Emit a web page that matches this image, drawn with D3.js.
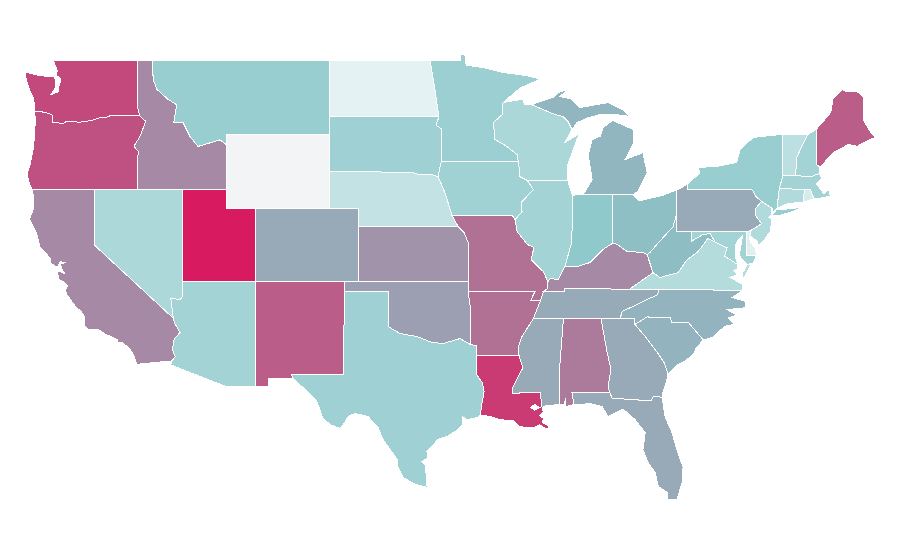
<!DOCTYPE html>
<html>
<head>
<meta charset="utf-8">
<script src="https://cdn.jsdelivr.net/npm/d3@7"></script>
<style>
  html, body { margin: 0; background: #fff; }
  path.state { stroke: #fff; stroke-width: 1px; fill-rule: evenodd; shape-rendering: crispEdges; }
</style>
</head>
<body>
<svg id="map" width="900" height="560"></svg>
<script>
// value read off the colour of each state (0-100), null = no data
const stateNames = ['WA','OR','CA','NV','ID','MT','WY','UT','AZ','CO','NM','ND','SD','NE','KS','OK','TX',
  'MN','IA','MO','AR','LA','WI','IL','IN','MI','OH','KY','TN','MS','AL','GA','FL','SC','NC','VA','WV',
  'PA','NY','NJ','DE','MD','CT','RI','MA','VT','NH','ME'];
const stateValues = [84,81,61.6,28,61.6,34.9,null,100,31.1,50.5,77,9.2,32.8,20.9,58,54,32.8,
  34.2,32.5,70,70,89,28.4,31.5,38.3,46,42.8,61.6,50,50.5,66.5,50.5,50.5,47,47,25.3,43.5,
  50.5,35.2,26.7,10.6,31.1,26.7,14.4,31.1,22.9,31.1,77];
const colourDomain = [0, 40, 100];
const colourRange = ['#ffffff', '#8ac7ca', '#d81b60'];
const nullColour = '#f3f4f6';

// shared borders, lon/lat
const waOr = [[-124.05,46.25],[-123.4,46.2],[-122.87,46.07],[-122.8,45.65],[-122.1,45.58],[-121.85,45.72],[-121,45.65],[-120.2,45.75],[-119.6,45.9],[-119,45.95],[-118.98,46],[-116.92,46]];
const waId = [[-117.03,49],[-117.04,46.4],[-116.92,46]];
const orId = [[-116.92,46],[-116.5,45.7],[-116.9,44.88],[-117.3,44.35],[-117,44.05],[-117.03,43.85],[-117.03,42]];
const waCoast = [[-124.1,46.9],[-124.35,47.3],[-124.6,47.9],[-124.7,48.38],[-123.7,48.17],[-123.15,48.15],[-122.75,48.15],[-122.6,47.9],[-122.6,47.55],[-122.95,47.15],[-122.75,47.2],[-122.45,47.3],[-122.4,47.6],[-122.25,48],[-122.6,48.2],[-122.5,48.45],[-122.7,48.8]];
const orCoast = [[-124.4,42.3],[-124.56,42.82],[-124.36,43.36],[-124.15,44.18],[-124.05,44.9],[-124,45.8]];
const caCoast = [[-124.1,41.5],[-124.1,41],[-124.4,40.4],[-124,39.8],[-123.8,39.3],[-123.7,38.9],[-123,38.3],[-122.95,38],[-122.5,37.8],[-122.3,38.1],[-122,38.05],[-122.3,37.95],[-122.2,37.7],[-122,37.45],[-122.4,37.6],[-122.5,37.5],[-122.4,37.15],[-122,36.95],[-121.8,36.8],[-121.95,36.55],[-121.85,36.3],[-121.3,35.7],[-120.85,35.35],[-120.65,35.1],[-120.63,34.6],[-120.45,34.45],[-119.7,34.4],[-119.2,34.15],[-118.8,34.02],[-118.4,33.85],[-118.4,33.73],[-118.1,33.7],[-117.6,33.4],[-117.3,33],[-117.12,32.53]];
const caAz = [[-114.63,35.03],[-114.57,34.8],[-114.18,34.26],[-114.57,33.9],[-114.7,33.33],[-114.5,32.95],[-114.72,32.72]];
const nvAz = [[-114.04,37],[-114.04,36.2],[-114.15,36.05],[-114.8,36.1],[-114.72,35.6],[-114.63,35.03]];
const idMt = [[-116.05,49],[-116,47.97],[-115.74,47.43],[-115,46.9],[-114.4,46.6],[-114.6,45.64],[-113.97,45.64],[-113.5,44.88],[-112.96,44.34],[-111.46,44.7],[-111.05,44.45]];
const ndMn = [[-97.2,49],[-96.87,47.4],[-96.6,45.94]];
const sdMn = [[-96.6,45.94],[-96.8,45.5],[-96.45,45.3],[-96.45,43.5]];
const sdIa = [[-96.45,43.5],[-96.66,42.7]];
const neSd = [[-104.05,43],[-98.4,42.93],[-97.9,42.8],[-97.2,42.85],[-96.66,42.7]];
const neIa = [[-96.66,42.7],[-96.2,41.85],[-95.7,40.58]];
const neMo = [[-95.7,40.58],[-95.3,40]];
const ksMo = [[-95.3,40],[-94.9,39.68],[-94.62,39.13],[-94.62,37]];
const okAr = [[-94.62,36.5],[-94.43,35.4],[-94.45,33.6]];
const redRiver = [[-100,34.56],[-99.24,34.2],[-98.1,34.04],[-97.07,33.72],[-96.3,33.66],[-95.17,33.93],[-94.45,33.6]];
const txLa = [[-94.04,33],[-94.04,31.98],[-93.67,31.55],[-93.53,31.06],[-93.67,30.46],[-93.8,29.76]];
const txCoast = [[-94.03,29.64],[-94.7,29.54],[-95.03,29.7],[-94.97,29.27],[-95.3,29],[-96.05,28.62],[-96.66,28.46],[-97.42,27.8],[-97.35,27.48],[-97.75,27.26],[-97.55,27.1],[-97.48,26.67],[-97.4,25.86],[-98.2,26.02],[-99.04,26.4],[-99.38,26.94],[-99.45,27.4],[-99.92,27.92],[-100.4,28.46],[-100.73,29.1],[-101.41,29.7],[-102.3,29.87],[-102.77,29.7],[-102.98,29.38],[-103.32,29.05],[-104,29.27],[-104.5,29.65],[-104.9,30.55],[-106,31.4],[-106.53,31.78]];
const mnWi = [[-92.25,46.72],[-92.3,46.07],[-92.9,45.64],[-92.8,44.72],[-92,44.35],[-91.3,43.9],[-91.2,43.5]];
const iaWi = [[-91.2,43.5],[-91.1,42.7],[-90.6,42.5]];
const iaIl = [[-90.6,42.5],[-90.2,42],[-91.02,41.3],[-90.96,40.8],[-91.43,40.38]];
const moIl = [[-91.43,40.38],[-91.3,39.73],[-90.6,39.03],[-90.15,38.86],[-90.35,38.2],[-89.5,37.55],[-89.2,37]];
const riverAr = [[-89.7,36],[-89.9,35.6],[-90.2,35],[-90.6,34.5],[-90.96,34.04],[-91.23,33.44],[-91.16,33]];
const riverLa = [[-91.16,33],[-90.9,32.35],[-91.57,31.33],[-91.63,30.97]];
const inIl = [[-87.53,41.7],[-87.57,39.6],[-87.63,39.03],[-88.05,37.83]];
const ohioKyIn = [[-84.8,39.1],[-85.46,38.76],[-86.35,38.05],[-87.2,37.83],[-88.05,37.83]];
const ohioKyOh = [[-82.47,38.48],[-82.8,38.6],[-83.83,38.65],[-84.5,39.03],[-84.8,39.1]];
const kyTn = [[-89.5,36.5],[-88.05,36.5],[-88.05,36.65],[-83.67,36.6]];
const ohWv = [[-80.5,40.6],[-80.7,40],[-81.7,39.13],[-82.27,38.6],[-82.47,38.48]];
const vaWv = [[-82.07,37.5],[-81.6,37.24],[-80.37,37.5],[-79.76,38.2],[-79.07,38.6],[-78.8,38.85],[-78.35,39.35],[-77.85,39.15]];
const potomac = [[-77.85,39.15],[-77.05,38.85],[-77.2,38.4],[-76.35,37.95]];
const tnNc = [[-81.7,36.58],[-81.75,36.3],[-82.47,36.05],[-83.3,35.72],[-84.17,35.4],[-84.3,35]];
const ncSc = [[-83.3,34.7],[-82.47,35.1],[-80.9,35.05],[-80.78,34.8],[-79.67,34.8],[-78.65,33.85]];
const gaSc = [[-83.3,34.7],[-82.6,34.04],[-81.8,33.2],[-81.3,32.6],[-81.05,31.98]];
const alGa = [[-85.6,35],[-85.18,33.17],[-84.92,32.25],[-85.12,31.33],[-85,31]];
const gaFl = [[-85,31],[-84.85,30.7],[-82.2,30.55],[-82.05,30.8],[-81.45,30.75]];
const flCoast = [[-81.25,29.7],[-80.78,28.83],[-80.45,27.9],[-80.03,26.95],[-80.1,26.1],[-80.45,25.2],[-81.05,25.2],[-81.1,25.6],[-81.7,25.9],[-81.93,26.67],[-82.4,27.2],[-82.75,27.9],[-82.6,28.83],[-83.3,29.55],[-84.1,30.1],[-85.12,29.7],[-85.53,30.25],[-86.3,30.4],[-87.43,30.35]];
const laCoast = [[-89.6,30.18],[-89.5,29.95],[-89.8,29.75],[-89.45,29.6],[-89.6,29.4],[-89.2,29.2],[-89.15,29.05],[-89.4,29.08],[-89.75,29.25],[-90.1,29.12],[-90.6,29.08],[-91.2,29.2],[-91.6,29.5],[-92.1,29.5],[-92.65,29.58],[-93.2,29.72],[-93.8,29.76]];
const ncCoast = [[-78.65,33.85],[-78,34],[-77.2,34.6],[-76.5,34.7],[-76.95,35.05],[-76.35,35.2],[-77.05,35.5],[-75.75,35.6],[-75.8,35.95],[-76.7,36.15],[-75.97,36.55]];
const wiMi = [[-90.3,46.6],[-88.72,46.07],[-88.18,45.97],[-87.84,45.7],[-87.57,45.26]];
const paNy = [[-79.76,42],[-75.35,42],[-75.05,41.6],[-74.7,41.36]];
const paNj = [[-74.7,41.36],[-75.13,40.95],[-75.1,40.6],[-74.7,40.15],[-75.4,39.8]];
const nyVt = [[-73.3,45],[-73.25,42.75]];
const vtNh = [[-71.55,45],[-72,44.3],[-72.3,43.75],[-72.4,42.75]];
const nhMe = [[-71,45.26],[-70.95,43.36],[-70.73,43.2]];
const nhMa = [[-72.4,42.75],[-71.3,42.72],[-70.8,42.87]];

const rev = arc => [...arc].reverse();

// each state is a list of polygons, each polygon a list of rings
const stateRings = {
  WA: [[[[-122.75,49], ...waId, ...rev(waOr), ...waCoast]]],
  OR: [[[...waOr, ...orId.slice(1), [-124.2,42], ...orCoast]]],
  CA: [[[[-124.2,42],[-120,42],[-120,39], ...caAz, ...rev(caCoast)]]],
  NV: [[[[-120,42],[-114.04,42], ...nvAz, [-120,39]]]],
  ID: [[[...waId.slice(0,1), ...idMt, [-111.05,42],[-117.03,42], ...rev(orId), ...rev(waId)]]],
  MT: [[[[-116.05,49],[-104.05,49],[-104.05,45],[-111.05,45], ...rev(idMt)]]],
  WY: [[[[-111.05,45],[-104.05,45],[-104.05,41],[-111.05,41]]]],
  UT: [[[[-114.04,42],[-111.05,42],[-111.05,41],[-109.05,41],[-109.05,37],[-114.04,37]]]],
  AZ: [[[[-114.04,37],[-109.05,37],[-109.05,31.33],[-111.07,31.33],[-114.8,32.5], ...rev(caAz), ...rev(nvAz).slice(1)]]],
  CO: [[[[-109.05,41],[-102.05,41],[-102.05,37],[-109.05,37]]]],
  NM: [[[[-109.05,37],[-103,37],[-103.05,32],[-106.62,32],[-106.53,31.78],[-108.2,31.78],[-108.2,31.33],[-109.05,31.33]]]],
  ND: [[[[-104.05,49], ...ndMn, [-104.05,45.94]]]],
  SD: [[[[-104.05,45.94], ...sdMn, ...sdIa.slice(1), ...rev(neSd).slice(1),[-104.05,45]]]],
  NE: [[[...neSd, ...neIa.slice(1), ...neMo.slice(1), [-102.05,40],[-102.05,41],[-104.05,41]]]],
  KS: [[[[-102.05,40], ...ksMo, [-102.05,37]]]],
  OK: [[[[-103,37],[-94.62,37], ...okAr, ...rev(redRiver), [-100,36.5],[-103.04,36.5]]]],
  TX: [[[[-103.04,36.5],[-100,36.5], ...redRiver, [-94.04,33.55], ...txLa, ...txCoast, [-106.62,32],[-103.05,32]]]],
  MN: [[[[-97.2,49],[-95.15,49],[-95.15,49.33],[-94.85,49.33],[-94.75,48.75],[-93.47,48.6],[-92.25,48.35],[-90.8,48.2],[-89.7,48],[-91.1,47.5], ...mnWi, ...rev(sdMn).slice(0,-1), ...rev(ndMn).slice(0,-1)]]],
  IA: [[[[-96.45,43.5], ...iaWi, ...iaIl.slice(1), [-91.63,40.6],[-95.7,40.58], ...rev(neIa).slice(1), ...rev(sdIa).slice(1)]]],
  MO: [[[[-95.7,40.58],[-91.63,40.6], ...moIl, [-89.2,36.64],[-89.5,36.5],[-89.7,36],[-90.37,36],[-90.07,36.5],[-94.62,36.5], ...rev(ksMo), ...rev(neMo).slice(1)]]],
  AR: [[[[-94.62,36.5],[-90.07,36.5],[-90.37,36], ...riverAr, [-94.04,33],[-94.04,33.55],[-94.45,33.6],[-94.43,35.4]]]],
  LA: [[[[-94.04,33], ...riverLa, [-89.73,31],[-89.6,30.2], ...laCoast, ...rev(txLa).slice(1)],
    [[-90.4,30.2],[-90.1,30.35],[-89.75,30.2],[-90.1,30.05]]]],
  WI: [[[...mnWi.slice(0,1),[-90.9,46.9],[-90.8,46.6], ...wiMi, [-88.04,44.56],[-87.15,45],[-87.03,45.15],[-87.57,44],[-87.84,43.36],[-87.84,42.5], ...rev(iaWi), ...rev(mnWi).slice(1)]]],
  IL: [[[[-90.6,42.5],[-87.84,42.5],[-87.8,42.3], ...inIl, [-88.5,37.13],[-89.05,37.18],[-89.2,37], ...rev(moIl), ...rev(iaIl)]]],
  IN: [[[[-87.53,41.7],[-86.8,41.75],[-84.8,41.73], ...ohioKyIn, ...rev(inIl)]]],
  MI: [[[[-86.8,41.75],[-84.8,41.73],[-83.42,41.74],[-83.08,41.9],[-82.47,42.93],[-82.75,44],[-83.97,43.63],[-83.42,44.45],[-83.42,45.26],[-84.8,45.75],[-85.46,45.37],[-85.66,44.9],[-86.2,44.7],[-86.47,43.9],[-86.2,42.55]]],
    [[...wiMi, [-87.23,45.63],[-86.47,45.9],[-85.66,46.07],[-84.65,46.07],[-83.63,45.97],[-84.17,46.35],[-85.1,46.72],[-87.03,46.45],[-87.57,46.9],[-88.38,47.05],[-87.84,47.43],[-88.5,47.27],[-88.85,47],[-89.74,46.78]]]],
  OH: [[[[-84.8,41.73],[-83.42,41.74],[-83,41.4],[-81.45,41.68],[-80.5,41.97], ...ohWv, ...ohioKyOh.slice(1)]]],
  KY: [[[[-89.2,37],[-89.05,37.18],[-88.5,37.13], ...rev(ohioKyIn), ...rev(ohioKyOh).slice(1), [-82.07,37.5], ...rev(kyTn), [-89.2,36.64]]]],
  TN: [[[...kyTn, ...tnNc, [-90.2,35],[-89.9,35.6],[-89.7,36]]]],
  MS: [[[[-90.2,35],[-88.15,35],[-88.45,31.9],[-88.4,30.35],[-89.3,30.3],[-89.6,30.2],[-89.73,31], ...rev(riverLa), ...rev(riverAr.slice(2)).slice(1)]]],
  AL: [[[[-88.15,35], ...alGa, [-87.57,31],[-87.43,30.35],[-88,30.25],[-88,30.68],[-88.1,30.35],[-88.4,30.35],[-88.45,31.9]]]],
  GA: [[[[-85.6,35],[-83.3,35], ...gaSc, [-81.2,31.5],[-81.4,31], ...rev(gaFl), ...rev(alGa).slice(1)]]],
  FL: [[[[-87.57,31], ...gaFl, ...flCoast]]],
  SC: [[[...ncSc, [-79.15,33.4],[-79.3,33.1],[-79.9,32.7],[-80.4,32.5],[-80.7,32.3], ...rev(gaSc)]]],
  NC: [[[[-81.7,36.58], ...rev(ncCoast), ...rev(ncSc).slice(1), [-83.3,35],[-84.3,35], ...rev(tnNc).slice(1)]]],
  VA: [[[[-83.67,36.6], ...vaWv, ...potomac.slice(1), [-76.3,37.7],[-76.6,37.6],[-76.3,37.4],[-76.85,37.25],[-76.3,37],[-75.97,36.85],[-75.97,36.55],[-81.7,36.58]]],
    [[[-75.65,37.95],[-75.4,37.95],[-75.95,37.15],[-75.98,37.5]]]],
  WV: [[[[-80.5,39.72],[-79.48,39.72],[-79.48,39.2],[-78.67,39.57],[-78.2,39.62], ...rev(vaWv), ...rev(ohWv)]]],
  PA: [[[[-80.5,41.97],[-79.76,42.27], ...paNy, ...paNj.slice(1), [-75.7,39.72],[-80.5,39.72]]]],
  NY: [[[[-79.76,42.27],[-78.9,42.9],[-79,43.2],[-77.65,43.27],[-76.4,43.47],[-76.15,44.18],[-75.27,44.83], ...nyVt, [-73.5,42.05],[-73.65,41],[-73.9,40.8],[-74,41],[-74.7,41.36], ...rev(paNy).slice(1)]],
    [[[-74,40.6],[-73.7,40.9],[-72.6,40.98],[-72,41.05],[-72.5,40.83],[-73.4,40.62]]]],
  NJ: [[[[-74.7,41.36],[-74,41],[-74,40.7],[-74.2,40.5],[-74,40.4],[-74.1,39.75],[-74.4,39.4],[-74.9,38.93],[-75,39.2],[-75.5,39.5], ...rev(paNj).slice(0,4)]]],
  DE: [[[[-75.7,39.72],[-75.4,39.8],[-75.55,39.45],[-75.4,39.1],[-75.1,38.8],[-75.05,38.45],[-75.7,38.45]]]],
  MD: [[[[-79.48,39.72],[-75.7,39.72],[-75.7,38.45],[-75.05,38.45],[-75.25,38.03],[-75.65,37.95],[-75.85,38.1],[-76.2,38.4],[-76.15,38.75],[-76.05,39.2],[-76,39.5],[-76.35,39.2],[-76.5,38.9],[-76.5,38.35],[-76.35,38.05], ...rev(potomac), [-78.2,39.62],[-78.67,39.57],[-79.48,39.2]]]],
  CT: [[[[-73.5,42.05],[-71.8,42.02],[-71.85,41.32],[-72.9,41.25],[-73.65,41]]]],
  RI: [[[[-71.8,42.02],[-71.38,42.02],[-71.15,41.5],[-71.85,41.32]]]],
  MA: [[[[-73.5,42.05],[-73.25,42.75], ...nhMa, [-70.6,42.65],[-71,42.3],[-70.65,42],[-70.5,41.78],[-70.05,42.05],[-70.1,41.78],[-69.95,41.67],[-70.65,41.55],[-71.15,41.5],[-71.38,42.02],[-71.8,42.02]]]],
  VT: [[[[-73.3,45], ...vtNh, [-73.25,42.75]]]],
  NH: [[[...vtNh, ...nhMa.slice(1), [-70.73,43.2], ...rev(nhMe).slice(1)]]],
  ME: [[[...nhMe.slice(0,1),[-70.3,45.9],[-70,46.2],[-69.85,46.9],[-69.23,47.43],[-68.9,47.3],[-68.2,47.3],[-67.8,47.05],[-67.8,45.8],[-67.33,45.15],[-67,44.83],[-67.9,44.5],[-68.2,44.35],[-68.8,44.45],[-69.85,44],[-70.3,43.6],[-70.73,43.2],[-70.95,43.36]]]]
};

// geoStream expects closed rings
const closeRing = ring => [...ring, ring[0]];
const features = stateNames.map((name, i) => ({
  type: 'Feature',
  properties: { name, value: stateValues[i] },
  geometry: {
    type: 'MultiPolygon',
    coordinates: stateRings[name].map(polygon => polygon.map(closeRing))
  }
}));

const x = d3.scaleLinear().domain([-124.7, -67]).range([25, 875]);
const y = d3.scaleLinear().domain([49, 25]).range([60.5, 503.3]);
const colourScale = d3.scaleLinear().domain(colourDomain).range(colourRange);

const projection = d3.geoTransform({
  point(lon, lat) { this.stream.point(x(lon), y(lat)); }
});
const pathGenerator = d3.geoPath(projection);

d3.select('#map').selectAll('path.state')
  .data(features)
  .join('path')
  .attr('class', 'state')
  .attr('d', pathGenerator)
  .attr('fill', d => d.properties.value == null ? nullColour : colourScale(d.properties.value));
</script>
</body>
</html>
